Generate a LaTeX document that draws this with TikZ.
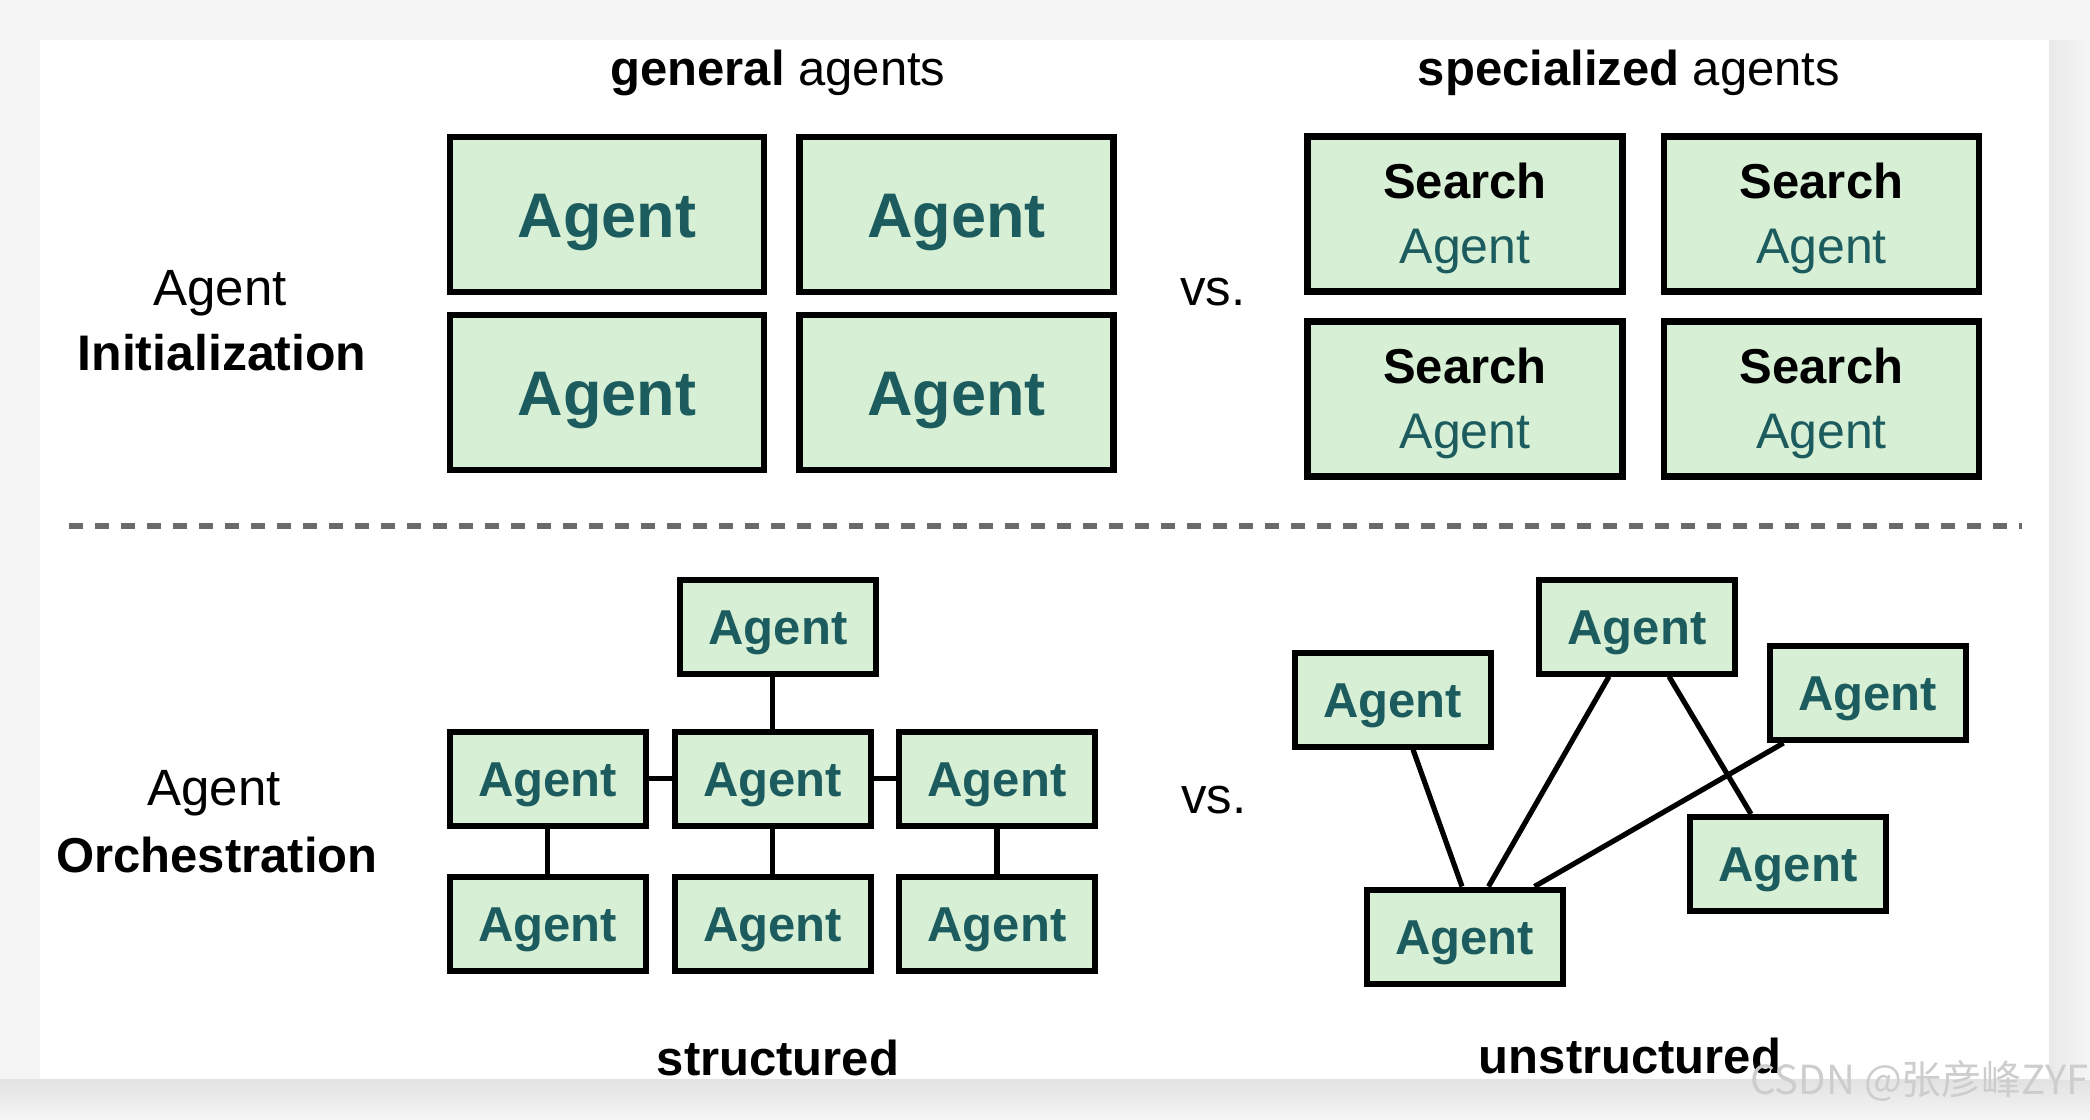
\documentclass[tikz,border=0pt]{standalone}
\usepackage{fontspec}
\setmainfont{Liberation Sans}
\newfontfamily\cjk{Noto Sans CJK SC}
\definecolor{boxfill}{HTML}{D7EFD5}
\definecolor{agentteal}{HTML}{1C5B5E}
\definecolor{dashgray}{HTML}{6A6A6A}
\definecolor{wmgray}{HTML}{CDCDCD}
\definecolor{bggray}{HTML}{F5F5F5}
\definecolor{shadowgray}{HTML}{E2E2E2}
\begin{document}
\begin{tikzpicture}[x=0.5pt,y=-0.5pt,
  bigbox/.style={draw=black, fill=boxfill, line width=3.4pt, minimum width=157pt, minimum height=77.5pt, inner sep=0pt, text=agentteal, font=\fontsize{31.5pt}{36pt}\selectfont\bfseries, text height=22.5pt, text depth=0pt},
  specbox/.style={draw=black, fill=boxfill, line width=3.4pt, minimum width=157.5pt, minimum height=77.5pt, inner sep=0pt},
  smallbox/.style={draw=black, fill=boxfill, line width=3pt, minimum width=98pt, minimum height=47pt, inner sep=0pt, text=agentteal, font=\fontsize{24.5pt}{30pt}\selectfont\bfseries, text height=17.5pt, text depth=0pt},
  searchtxt/.style={anchor=base, inner sep=0pt, font=\fontsize{24.5pt}{30pt}\selectfont\bfseries, text=black},
  spagent/.style={anchor=base, inner sep=0pt, font=\fontsize{25pt}{30pt}\selectfont, text=agentteal},
  lab/.style={anchor=base, inner sep=0pt, font=\fontsize{25.5pt}{30pt}\selectfont, text=black},
  labb/.style={anchor=base, inner sep=0pt, font=\fontsize{25pt}{30pt}\selectfont\bfseries, text=black},
  title/.style={anchor=base, inner sep=0pt, font=\fontsize{24.5pt}{30pt}\selectfont, text=black},
  link/.style={draw=black, line width=2.6pt},
]
% background and card
\useasboundingbox (0,0) rectangle (2090,1120);
\fill[bggray] (0,0) rectangle (2090,1120);
\shade[top color=shadowgray, bottom color=bggray] (0,1079) rectangle (2090,1120);
\shade[left color=shadowgray!60!bggray, right color=bggray] (2049,40) rectangle (2090,1079);
\fill[white] (40,40) rectangle (2049,1079);

% titles
\node[title] (tg) at (778,85) {\textbf{general} agents};
\node[title] (ts) at (1629,85) {\textbf{specialized} agents};

% row labels
\node[lab] (l1a) at (220,305) {Agent};
\node[labb] (l1b) at (222,370) {Initialization};
\node[lab] (vs1) at (1213,305) {vs.};
\node[lab] (l2a) at (214,805) {Agent};
\node[labb, font=\fontsize{24.5pt}{30pt}\selectfont\bfseries] (l2b) at (217,872) {Orchestration};
\node[lab] (vs2) at (1214,813) {vs.};

% general agents
\node[bigbox] (g1) at (607,214.5) {Agent};
\node[bigbox] (g2) at (956.5,214.5) {Agent};
\node[bigbox] (g3) at (607,392.5) {Agent};
\node[bigbox] (g4) at (956.5,392.5) {Agent};

% specialized agents
\node[specbox] (s1) at (1465,214) {};
\node[specbox] (s2) at (1821.5,214) {};
\node[specbox] (s3) at (1465,399) {};
\node[specbox] (s4) at (1821.5,399) {};
\foreach \b in {s1,s2,s3,s4}{
  \node[searchtxt] (\b s) at ([yshift=8pt]\b.center) {Search};
  \node[spagent] (\b a) at ([yshift=-24.5pt]\b.center) {Agent};
}

% divider
\coordinate (dl) at (69,526);
\coordinate (dr) at (2022,526);
\draw[dashgray, line width=3pt, dash pattern=on 7pt off 6pt] (dl) -- (dr);

% structured
\node[smallbox] (t)  at (778,626.5) {Agent};
\node[smallbox] (m1) at (547.5,778.5) {Agent};
\node[smallbox] (m2) at (772.5,778.5) {Agent};
\node[smallbox] (m3) at (997,778.5) {Agent};
\node[smallbox] (b1) at (547.5,923.5) {Agent};
\node[smallbox] (b2) at (772.5,923.5) {Agent};
\node[smallbox] (b3) at (997,923.5) {Agent};
\draw[link] (m2.north) -- (m2.north |- t.south);
\draw[link] (m1.east) -- (m2.west);
\draw[link] (m2.east) -- (m3.west);
\draw[link] (m1.south) -- (b1.north);
\draw[link] (m2.south) -- (b2.north);
\draw[link] (m3.south) -- (b3.north);

% unstructured
\node[smallbox] (u1) at (1392.5,699.5) {Agent};
\node[smallbox] (u2) at (1637,626.5) {Agent};
\node[smallbox] (u3) at (1867.5,693) {Agent};
\node[smallbox] (u4) at (1788,864) {Agent};
\node[smallbox] (u5) at (1464.5,936.5) {Agent};
\draw[link] ([xshift=10.25pt]u1.south) -- ([xshift=-1.25pt]u5.north);
\draw[link] ([xshift=-14pt]u2.south) -- ([xshift=12pt]u5.north);
\draw[link] ([xshift=16pt]u2.south) -- ([xshift=-18.5pt]u4.north);
\draw[link] ([xshift=-42pt]u3.south) -- ([xshift=35pt]u5.north);

% bottom captions
\node[title] (st) at (778,1075) {\textbf{structured}};
\node[title] (ut) at (1630,1073) {\textbf{unstructured}};

% watermark
\node[anchor=base west, inner sep=0pt, text=wmgray, font=\cjk\fontsize{20pt}{24pt}\selectfont] (wm) at (1750,1094) {CSDN @张彦峰ZYF};
\end{tikzpicture}
\end{document}
